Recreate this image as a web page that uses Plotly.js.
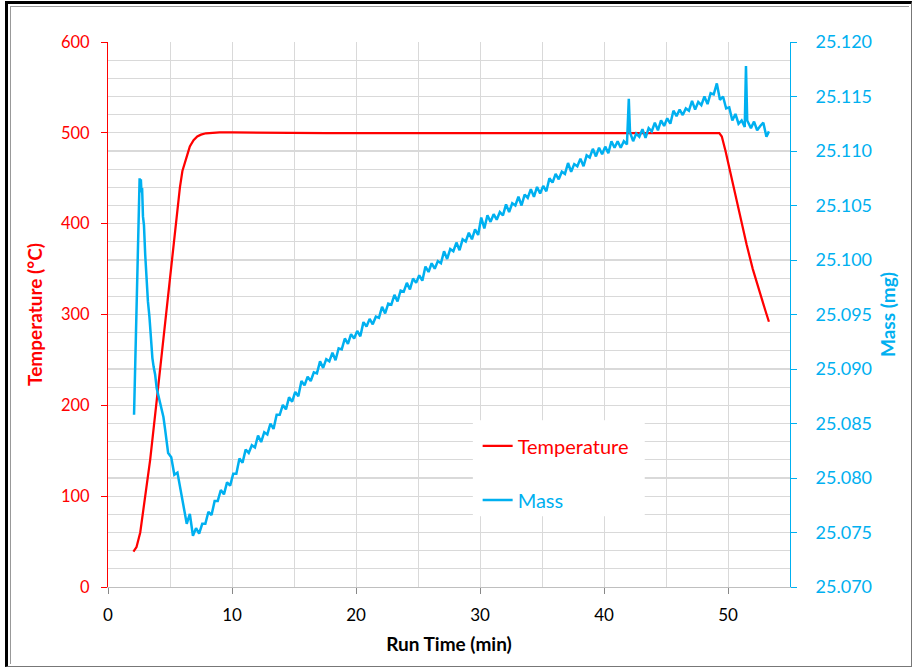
<!DOCTYPE html>
<html>
<head>
<meta charset="utf-8">
<script src="https://cdn.plot.ly/plotly-3.0.1.min.js"></script>
<style>
  html, body { margin: 0; padding: 0; background: #fff; }
  #chart { width: 912px; height: 667px; }
  #frame { position: absolute; left: 5px; top: 1px; width: 903px; height: 662px;
           border-top: 3px solid #000; border-left: 3px solid #000;
           border-right: 1px solid #777; border-bottom: 1px solid #777; pointer-events: none; }
  #frame2 { position: absolute; left: 10px; top: 6px; width: 898px; height: 657px;
           border-top: 1px solid #999; border-left: 1px solid #999; pointer-events: none; }
</style>
</head>
<body>
<div id="chart"></div>
<div id="frame"></div>
<div id="frame2"></div>
<script>
// Temperature (°C) vs run time (min)
const tempTime = [2.05, 2.3, 2.6, 3.0, 3.4, 3.9, 4.4, 4.9, 5.4, 5.8, 6.0, 6.2, 6.4, 6.6, 6.9, 7.2, 7.5, 7.9, 8.4, 9.0, 10.0, 17.5, 17.6, 49.3, 49.5, 49.8, 50.2, 50.6, 51.0, 51.5, 52.0, 52.5, 53.0, 53.3];
const tempValues = [39, 44, 60, 98, 140, 202, 265, 330, 393, 440, 458, 466, 476, 485, 492, 496, 498, 499.5, 500.3, 500.5, 500.5, 500.3, 499.7, 499.7, 496, 480, 455, 430, 405, 377, 350, 326, 305, 292];

// Mass (mg) vs run time (min)
const massTime = [2.1, 2.3, 2.45, 2.55, 2.6, 2.65, 2.7, 2.75, 2.82, 2.9, 3.0, 3.12, 3.22, 3.34, 3.45, 3.58, 3.68, 3.8, 3.93, 4.05, 4.2, 4.33, 4.47,
  4.6, 4.85, 5.1, 5.35, 5.6, 5.85, 6.1, 6.35, 6.6, 6.85, 7.1, 7.35, 7.6, 7.85, 8.1, 8.35, 8.6, 8.85, 9.1, 9.35, 9.6, 9.85,
  10.1, 10.35, 10.6, 10.85, 11.1, 11.35, 11.6, 11.85, 12.1, 12.35, 12.6, 12.85, 13.1, 13.35, 13.6, 13.85, 14.1, 14.35, 14.6, 14.85,
  15.1, 15.35, 15.6, 15.85, 16.1, 16.35, 16.6, 16.85, 17.1, 17.35, 17.6, 17.85, 18.1, 18.35, 18.6, 18.85, 19.1, 19.35, 19.6, 19.85,
  20.1, 20.35, 20.6, 20.85, 21.1, 21.35, 21.6, 21.85, 22.1, 22.35, 22.6, 22.85, 23.1, 23.35, 23.6, 23.85, 24.1, 24.35, 24.6, 24.85,
  25.1, 25.35, 25.6, 25.85, 26.1, 26.35, 26.6, 26.85, 27.1, 27.35, 27.6, 27.85, 28.1, 28.35, 28.6, 28.85, 29.1, 29.35, 29.6, 29.85,
  30.1, 30.35, 30.6, 30.85, 31.1, 31.35, 31.6, 31.85, 32.1, 32.35, 32.6, 32.85, 33.1, 33.35, 33.6, 33.85, 34.1, 34.35, 34.6, 34.85,
  35.1, 35.35, 35.6, 35.85, 36.1, 36.35, 36.6, 36.85, 37.1, 37.35, 37.6, 37.85, 38.1, 38.35, 38.6, 38.85, 39.1, 39.35, 39.6, 39.85,
  40.1, 40.35, 40.6, 40.85, 41.1, 41.35, 41.6, 41.85, 42.0, 42.1, 42.35, 42.6, 42.85, 43.1, 43.35, 43.6, 43.85, 44.1, 44.35, 44.6, 44.85,
  45.1, 45.35, 45.6, 45.85, 46.1, 46.35, 46.6, 46.85, 47.1, 47.35, 47.6, 47.85, 48.1, 48.35, 48.6, 48.85, 49.1, 49.35, 49.6, 49.85,
  50.1, 50.35, 50.6, 50.85, 51.1, 51.35, 51.45, 51.55, 51.85, 52.1, 52.35, 52.6, 52.85, 53.1, 53.3];
const massValues = [25.0858, 25.0960, 25.1050, 25.1075, 25.1068, 25.1074, 25.1062, 25.1066, 25.1040, 25.1032, 25.1005, 25.0975, 25.0962, 25.0948, 25.0928, 25.0910, 25.0902, 25.0895, 25.0882, 25.0876, 25.0868, 25.0862, 25.0856,
  25.0845, 25.0823, 25.0819, 25.0803, 25.0805, 25.0788, 25.0775, 25.0758, 25.0767, 25.0747, 25.0754, 25.0749, 25.0758, 25.0758, 25.0769, 25.0766, 25.0779, 25.0779, 25.0789, 25.0785, 25.0796, 25.0793,
  25.0804, 25.0804, 25.0818, 25.0814, 25.0826, 25.0823, 25.0830, 25.0828, 25.0839, 25.0833, 25.0842, 25.0840, 25.0850, 25.0845, 25.0858, 25.0858, 25.0867, 25.0863, 25.0874, 25.0870,
  25.0879, 25.0875, 25.0889, 25.0885, 25.0893, 25.0889, 25.0897, 25.0896, 25.0907, 25.0901, 25.0909, 25.0907, 25.0915, 25.0908, 25.0919, 25.0918, 25.0928, 25.0923, 25.0932, 25.0928,
  25.0935, 25.0930, 25.0943, 25.0939, 25.0946, 25.0941, 25.0948, 25.0947, 25.0957, 25.0951, 25.0960, 25.0959, 25.0968, 25.0962, 25.0972, 25.0971, 25.0979, 25.0973, 25.0983, 25.0979,
  25.0986, 25.0981, 25.0994, 25.0989, 25.0997, 25.0992, 25.0999, 25.0997, 25.1008, 25.1001, 25.1010, 25.1008, 25.1016, 25.1009, 25.1019, 25.1017, 25.1025, 25.1019, 25.1028, 25.1023,
  25.1039, 25.1029, 25.1041, 25.1035, 25.1042, 25.1037, 25.1044, 25.1041, 25.1051, 25.1044, 25.1052, 25.1050, 25.1058, 25.1050, 25.1060, 25.1057, 25.1065, 25.1058, 25.1067, 25.1061,
  25.1068, 25.1063, 25.1075, 25.1071, 25.1079, 25.1074, 25.1081, 25.1079, 25.1089, 25.1081, 25.1088, 25.1086, 25.1093, 25.1086, 25.1096, 25.1094, 25.1102, 25.1095, 25.1103, 25.1097,
  25.1104, 25.1098, 25.1109, 25.1103, 25.1109, 25.1103, 25.1109, 25.1106, 25.1148, 25.1117, 25.1109, 25.1116, 25.1113, 25.1120, 25.1112, 25.1121, 25.1118, 25.1126, 25.1119, 25.1128, 25.1123,
  25.1130, 25.1125, 25.1137, 25.1132, 25.1138, 25.1133, 25.1139, 25.1137, 25.1146, 25.1138, 25.1145, 25.1142, 25.1150, 25.1143, 25.1153, 25.1152, 25.1162, 25.1147, 25.1150, 25.1139,
  25.1140, 25.1128, 25.1134, 25.1125, 25.1128, 25.1122, 25.1178, 25.1128, 25.1121, 25.1127, 25.1119, 25.1123, 25.1126, 25.1113, 25.1118];

const xTickVals = [0, 10, 20, 30, 40, 50];
const tempTickVals = [0, 100, 200, 300, 400, 500, 600];
const massTickVals = [25.070, 25.075, 25.080, 25.085, 25.090, 25.095, 25.100, 25.105, 25.110, 25.115, 25.120];

const RED = '#FF0000';
const BLUE = '#00B0F0';
const FONT = 'Lato, "Open Sans", sans-serif';

const traces = [
  { x: tempTime, y: tempValues, type: 'scatter', mode: 'lines',
    name: '<span style="color:' + RED + '">Temperature</span>',
    line: { color: RED, width: 2.25 }, yaxis: 'y', legendgroup: 'a' },
  { x: massTime, y: massValues, type: 'scatter', mode: 'lines',
    name: '<span style="color:' + BLUE + '">Mass</span>',
    line: { color: BLUE, width: 2.5 }, yaxis: 'y2', legendgroup: 'b' }
];

const layout = {
  width: 912, height: 667,
  margin: { l: 108, r: 122, t: 42, b: 80 },
  paper_bgcolor: '#fff', plot_bgcolor: '#fff',
  font: { family: FONT, size: 16 },
  showlegend: true,
  legend: { x: 0.542, y: 0.2945, xanchor: 'left', yanchor: 'top', bgcolor: 'rgba(0,0,0,0)',
            borderwidth: 0, tracegroupgap: 25, font: { family: FONT, size: 20, color: '#000' } },
  xaxis: {
    range: [0, 55], tickvals: xTickVals, ticks: 'outside', ticklen: 6, tickcolor: '#888',
    ticklabelstandoff: 7,
    showline: true, linecolor: '#bfbfbf', linewidth: 1, zeroline: false,
    showgrid: true, gridcolor: '#d9d9d9', gridwidth: 1,
    minor: { dtick: 5, tick0: 0, showgrid: true, gridcolor: '#d9d9d9', gridwidth: 1, ticks: '' },
    tickfont: { family: FONT, size: 17, color: '#000' },
    title: { text: '<b>Run Time (min)</b>', font: { family: FONT, size: 19, color: '#000' }, standoff: 13 }
  },
  yaxis: {
    range: [0, 600], tickvals: tempTickVals, ticks: 'outside', ticklen: 6, tickcolor: RED,
    ticklabelstandoff: 8,
    showline: true, linecolor: RED, linewidth: 1, zeroline: false,
    showgrid: true, gridcolor: '#d9d9d9', gridwidth: 1.3,
    minor: { dtick: 20, tick0: 0, showgrid: true, gridcolor: '#d9d9d9', gridwidth: 1.3, ticks: '' },
    tickfont: { family: FONT, size: 16.5, color: RED },
    title: { text: '<b>Temperature (°C)</b>', font: { family: FONT, size: 19, color: RED }, standoff: 13 }
  },
  yaxis2: {
    range: [25.070, 25.120], tickvals: massTickVals, tickformat: '.3f', overlaying: 'y', side: 'right',
    ticks: 'outside', ticklen: 6, tickcolor: BLUE, ticklabelstandoff: 15,
    showline: true, linecolor: BLUE, linewidth: 1, zeroline: false, showgrid: false,
    tickfont: { family: FONT, size: 18, color: BLUE },
    title: { text: '<b>Mass (mg)</b>', font: { family: FONT, size: 19, color: BLUE }, standoff: 10 }
  },
  shapes: [
    { type: 'rect', xref: 'paper', yref: 'paper', x0: 0.535, x1: 0.787, y0: 0.130, y1: 0.306,
      fillcolor: '#fff', line: { width: 0 }, layer: 'above' }
  ]
};

Plotly.newPlot('chart', traces, layout, { staticPlot: true, displayModeBar: false });
</script>
</body>
</html>
